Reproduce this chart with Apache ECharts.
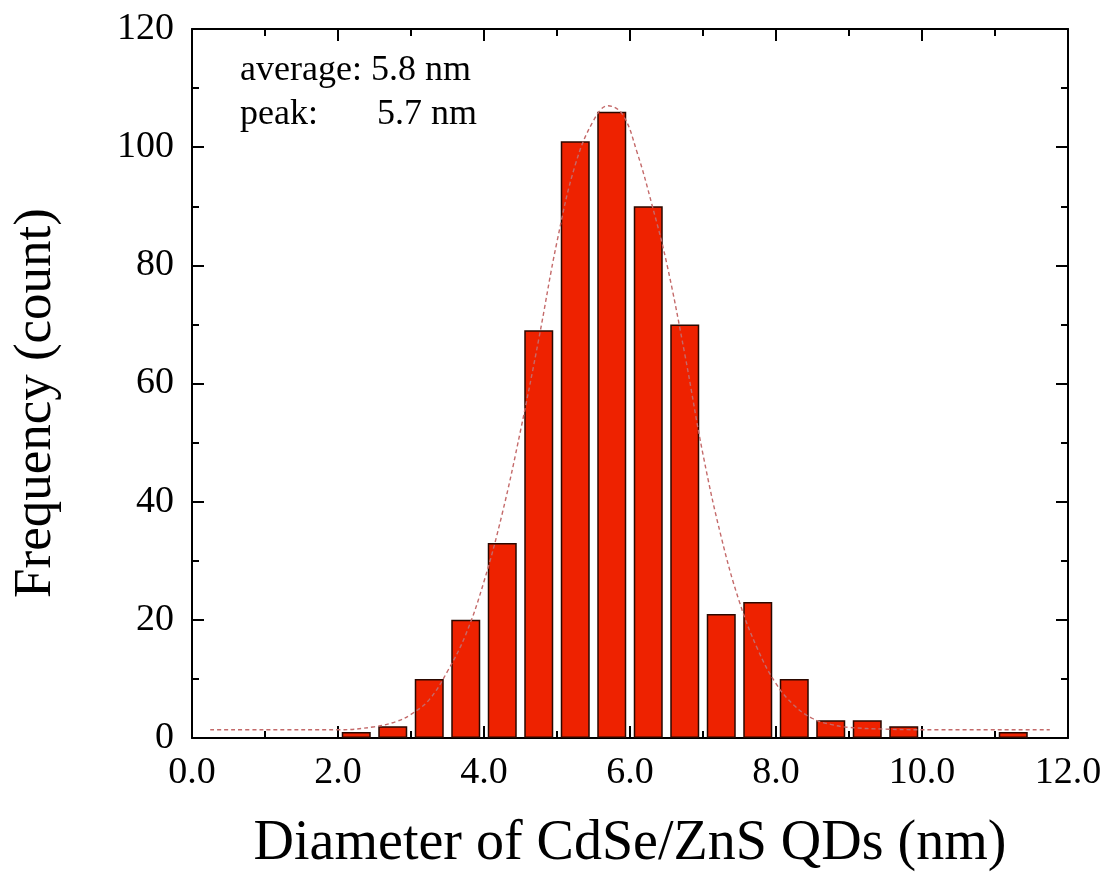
<!DOCTYPE html>
<html>
<head>
<meta charset="utf-8">
<script src="https://cdn.jsdelivr.net/npm/echarts@6/dist/echarts.min.js"></script>
<style>html,body{margin:0;padding:0;background:#fff}#c{width:1106px;height:874px}</style>
</head>
<body>
<div id="c"></div>
<script>
// Histogram bins (bin centres, nm) and counts
const binCenters = [2.25, 2.75, 3.25, 3.75, 4.25, 4.75, 5.25, 5.75, 6.25, 6.75, 7.25, 7.75, 8.25, 8.75, 9.25, 9.75, 11.25];
const counts     = [1,    2,    10,   20,   33,   69,   101,  106,  90,   70,   21,   23,   10,   3,    3,    2,    1];
// Fitted curve
const fitX = [0.25, 1.0, 2.0, 2.5, 2.8, 3.0, 3.25, 3.5, 3.75, 4.0, 4.25, 4.5, 4.75, 5.0, 5.25, 5.5, 5.7, 5.9, 6.1, 6.3, 6.5, 6.75, 7.0, 7.25, 7.5, 7.75, 8.0, 8.25, 8.5, 8.75, 9.0, 9.5, 10.0, 11.75];
const fitY = [1.4, 1.4, 1.4, 1.9, 2.8, 4.0, 6.5, 11.3, 17.5, 26.5, 38, 52, 67.5, 84, 97, 104.5, 107, 105.5, 99, 90.3, 80.5, 65, 48, 34, 23, 15, 9.2, 5.5, 3.3, 2.3, 1.8, 1.5, 1.4, 1.4];
const xTicks = [0, 2, 4, 6, 8, 10, 12];
const yTicks = [0, 20, 40, 60, 80, 100, 120];
const xTitle = 'Diameter of CdSe/ZnS QDs (nm)';
const yTitle = 'Frequency (count)';
const noteLines = ['average: 5.8 nm', 'peak:', '5.7 nm'];

const FONT = 'Liberation Serif';
const chart = echarts.init(document.getElementById('c'));
function mkLine(){ return {show: true, onZero: false, lineStyle: {color: '#000', width: 2}}; }
function mkTick(){ return {show: true, inside: true, length: 12, lineStyle: {color: '#000', width: 2}}; }
function mkMinor(){ return {show: true, splitNumber: 2, length: 7, lineStyle: {color: '#000', width: 2}}; }

const option = {
  backgroundColor: '#fff',
  animation: false,
  grid: {left: 192, top: 29, right: 38, bottom: 136, outerBoundsMode: 'none', containLabel: false},
  xAxis: [{
    show: true,
    type: 'value', min: xTicks[0], max: xTicks[xTicks.length-1], interval: xTicks[1]-xTicks[0],
    position: 'bottom',
    axisLine: mkLine(), axisTick: mkTick(), minorTick: mkMinor(), splitLine: {show: false},
    axisLabel: {color: '#000', fontFamily: FONT, fontSize: 38, margin: 16, formatter: v => v.toFixed(1)},
    name: xTitle, nameLocation: 'middle', nameGap: 78,
    nameTextStyle: {color: '#000', fontFamily: FONT, fontSize: 56}
  }, {
    show: true,
    type: 'value', min: xTicks[0], max: xTicks[xTicks.length-1], interval: xTicks[1]-xTicks[0],
    position: 'top',
    axisLine: mkLine(), axisTick: mkTick(), minorTick: mkMinor(), splitLine: {show: false},
    axisLabel: {show: false}
  }],
  yAxis: [{
    show: true,
    type: 'value', min: yTicks[0], max: yTicks[yTicks.length-1], interval: yTicks[1]-yTicks[0],
    position: 'left',
    axisLine: mkLine(), axisTick: mkTick(), minorTick: mkMinor(), splitLine: {show: false},
    axisLabel: {color: '#000', fontFamily: FONT, fontSize: 38, margin: 18}
  }, {
    show: true,
    type: 'value', min: yTicks[0], max: yTicks[yTicks.length-1], interval: yTicks[1]-yTicks[0],
    position: 'right',
    axisLine: mkLine(), axisTick: mkTick(), minorTick: mkMinor(), splitLine: {show: false},
    axisLabel: {show: false}
  }],
  series: [{
    type: 'bar',
    xAxisIndex: 0, yAxisIndex: 0,
    data: binCenters.map((x, i) => [x, counts[i]]),
    barWidth: 29,
    itemStyle: {color: '#ee2200', borderColor: '#2a0800', borderWidth: 1.5},
    z: 2
  }, {
    type: 'line',
    xAxisIndex: 0, yAxisIndex: 0,
    data: fitX.map((x, i) => [x, fitY[i]]),
    smooth: 0.4,
    showSymbol: false,
    lineStyle: {color: '#c46a6a', width: 1.4, type: [4, 3]},
    z: 3
  }, {
    type: 'line', xAxisIndex: 1, yAxisIndex: 1, data: [], silent: true, showSymbol: false
  }],
  graphic: [
    {type: 'text', left: 240, top: 53, style: {text: noteLines[0], font: '36px "' + FONT + '"', fill: '#000'}},
    {type: 'text', left: 240, top: 97, style: {text: noteLines[1], font: '36px "' + FONT + '"', fill: '#000'}},
    {type: 'text', left: 377, top: 97, style: {text: noteLines[2], font: '36px "' + FONT + '"', fill: '#000'}},
    {type: 'text', x: 36, y: 403, rotation: Math.PI / 2,
     style: {text: yTitle, font: '53px "' + FONT + '"', fill: '#000', align: 'center', verticalAlign: 'middle'}}
  ]
};
chart.setOption(option);
</script>
</body>
</html>
